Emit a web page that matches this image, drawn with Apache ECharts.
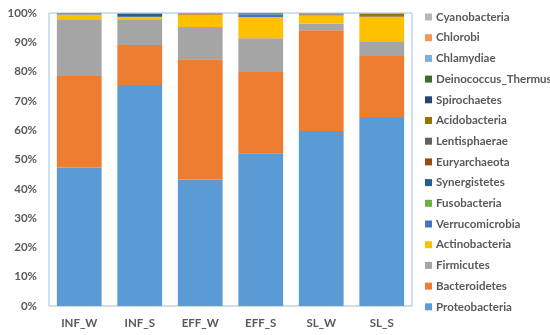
<!DOCTYPE html>
<html>
<head>
<meta charset="utf-8">
<script src="https://cdn.jsdelivr.net/npm/echarts@6/dist/echarts.min.js"></script>
<style>html,body{margin:0;padding:0;background:#fff}#c{width:550px;height:335px}</style>
</head>
<body>
<div id="c"></div>
<script>
var categories = ['INF_W', 'INF_S', 'EFF_W', 'EFF_S', 'SL_W', 'SL_S'];
var yTicks = [0, 10, 20, 30, 40, 50, 60, 70, 80, 90, 100];

var Proteobacteria      = [47.3, 75.4, 43.2, 52.1, 59.7, 64.5];
var Bacteroidetes       = [31.2, 13.7, 41.0, 27.8, 34.4, 20.8];
var Firmicutes          = [19.4, 8.5, 11.0, 11.5, 2.2, 5.1];
var Actinobacteria      = [1.6, 1.0, 4.3, 7.2, 2.9, 8.2];
var Verrucomicrobia     = [0.25, 0.1, 0.0, 1.0, 0.0, 0.0];
var Fusobacteria        = [0.0, 0.05, 0.0, 0.1, 0.0, 0.0];
var Synergistetes       = [0.1, 1.1, 0.0, 0.0, 0.0, 0.0];
var Euryarchaeota       = [0.0, 0.0, 0.2, 0.0, 0.0, 0.0];
var Lentisphaerae       = [0.0, 0.0, 0.1, 0.0, 0.4, 0.2];
var Acidobacteria       = [0.0, 0.0, 0.0, 0.0, 0.0, 1.0];
var Spirochaetes        = [0.05, 0.0, 0.0, 0.0, 0.0, 0.0];
var Deinococcus_Thermus = [0.0, 0.0, 0.0, 0.2, 0.0, 0.0];
var Chlamydiae          = [0.0, 0.0, 0.0, 0.0, 0.0, 0.0];
var Chlorobi            = [0.0, 0.0, 0.2, 0.0, 0.4, 0.0];
var Cyanobacteria       = [0.1, 0.15, 0.0, 0.1, 0.0, 0.2];

var seriesDefs = [
  ['Proteobacteria', Proteobacteria, '#5B9BD5'],
  ['Bacteroidetes', Bacteroidetes, '#ED7D31'],
  ['Firmicutes', Firmicutes, '#A5A5A5'],
  ['Actinobacteria', Actinobacteria, '#FFC000'],
  ['Verrucomicrobia', Verrucomicrobia, '#4472C4'],
  ['Fusobacteria', Fusobacteria, '#70AD47'],
  ['Synergistetes', Synergistetes, '#255E91'],
  ['Euryarchaeota', Euryarchaeota, '#9E480E'],
  ['Lentisphaerae', Lentisphaerae, '#636363'],
  ['Acidobacteria', Acidobacteria, '#997300'],
  ['Spirochaetes', Spirochaetes, '#264478'],
  ['Deinococcus_Thermus', Deinococcus_Thermus, '#43682B'],
  ['Chlamydiae', Chlamydiae, '#7CAFDD'],
  ['Chlorobi', Chlorobi, '#F1975A'],
  ['Cyanobacteria', Cyanobacteria, '#B7B7B7']
];

var font = 'Lato';
var chart = echarts.init(document.getElementById('c'));
chart.setOption({
  animation: false,
  grid: { left: 49, right: 138, top: 13, bottom: 29, show: true, borderColor: '#9DC3E6', borderWidth: 1 },
  legend: {
    orient: 'vertical',
    left: 420,
    top: 5,
    itemWidth: 7,
    itemHeight: 7,
    itemGap: 6.7,
    icon: 'rect',
    data: seriesDefs.map(function (d) { return d[0]; }).reverse(),
    textStyle: { fontFamily: font, fontSize: 11.5, fontWeight: 'bold', color: '#595959', lineHeight: 14, padding: [0, 0, 0, -1] }
  },
  xAxis: {
    type: 'category',
    data: categories,
    axisLine: { show: true, lineStyle: { color: '#D9D9D9' } },
    axisTick: { show: false },
    axisLabel: { fontFamily: font, fontSize: 11.5, fontWeight: 'bold', color: '#595959', margin: 11 }
  },
  yAxis: {
    type: 'value',
    min: yTicks[0],
    max: yTicks[yTicks.length - 1],
    interval: yTicks[1] - yTicks[0],
    splitLine: { show: false },
    axisLine: { show: false },
    axisTick: { show: false },
    axisLabel: { fontFamily: font, fontSize: 11.5, fontWeight: 'bold', color: '#595959', margin: 12, formatter: '{value}%' }
  },
  series: seriesDefs.map(function (d) {
    return {
      name: d[0], type: 'bar', stack: 'total', data: d[1],
      barCategoryGap: '26%',
      itemStyle: { color: d[2] }
    };
  })
});
</script>
</body>
</html>
